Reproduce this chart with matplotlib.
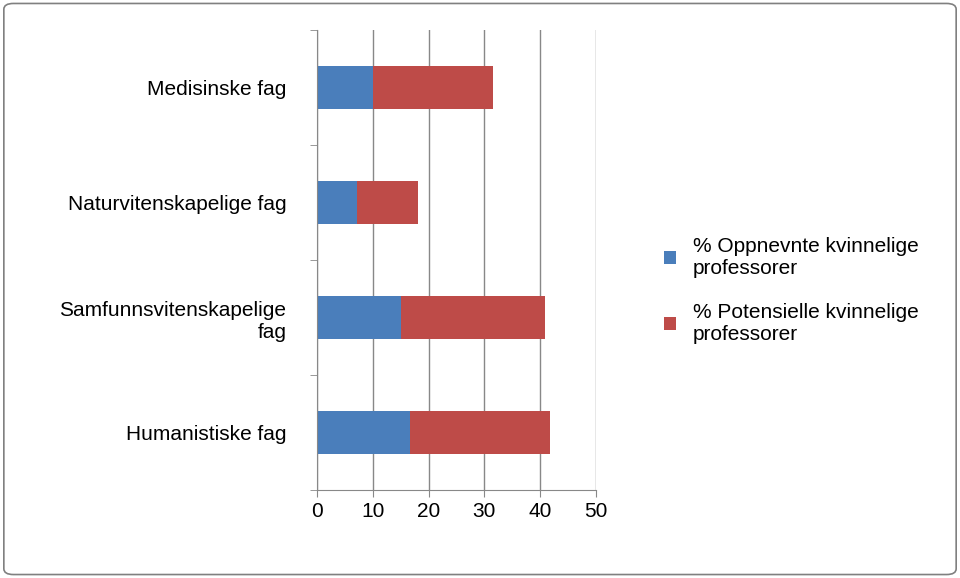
import matplotlib.pyplot as plt
from matplotlib.patches import FancyBboxPatch

categories = ["Humanistiske fag", "Samfunnsvitenskapelige\nfag", "Naturvitenskapelige fag", "Medisinske fag"]
appointed = [16.7, 15.0, 7.2, 10.0]
potential = [25.1, 25.9, 10.9, 21.5]  # stacked on top of appointed
ticks = [0, 10, 20, 30, 40, 50]

plt.rcParams['font.family'] = ['Liberation Sans', 'DejaVu Sans']

fig = plt.figure(figsize=(9.6, 5.78), dpi=100)
fig.patches.append(FancyBboxPatch((0.004, 0.006), 0.992, 0.988, boxstyle="round,pad=0,rounding_size=0.01",
                                  transform=fig.transFigure, fill=False, edgecolor="#808080", lw=1.2))
ax = fig.add_axes([317 / 960, 1 - 490 / 578, (596 - 317) / 960, (490 - 30) / 578])

y = range(len(categories))
ax.barh(y, appointed, height=0.38, color="#4a7ebb", label="% Oppnevnte kvinnelige\nprofessorer")
ax.barh(y, potential, left=appointed, height=0.38, color="#be4b48", label="% Potensielle kvinnelige\nprofessorer")

ax.set_xlim(0, 50)
ax.set_ylim(-0.5, 3.5)
ax.set_xticks(ticks)
ax.set_yticks(list(y))
ax.set_yticklabels(categories, fontsize=15)
ax.tick_params(axis='x', labelsize=15, length=5, color="#888888")
ax.tick_params(axis='y', length=0, pad=22)
ax.set_yticks([-0.5, 0.5, 1.5, 2.5, 3.5], minor=True)
ax.tick_params(axis='y', which='minor', length=5, color="#888888")
ax.xaxis.grid(True, color="#888888", lw=1)
ax.set_axisbelow(True)
for s in ["top", "right"]:
    ax.spines[s].set_visible(False)
ax.spines["left"].set_color("#888888")
ax.spines["bottom"].set_color("#888888")

fig.legend(loc="center left", bbox_to_anchor=(645 / 960, 1 - 290 / 578), frameon=False,
           fontsize=15, handlelength=0.6, handleheight=0.6, labelspacing=1.2)

fig.savefig("out.png")
